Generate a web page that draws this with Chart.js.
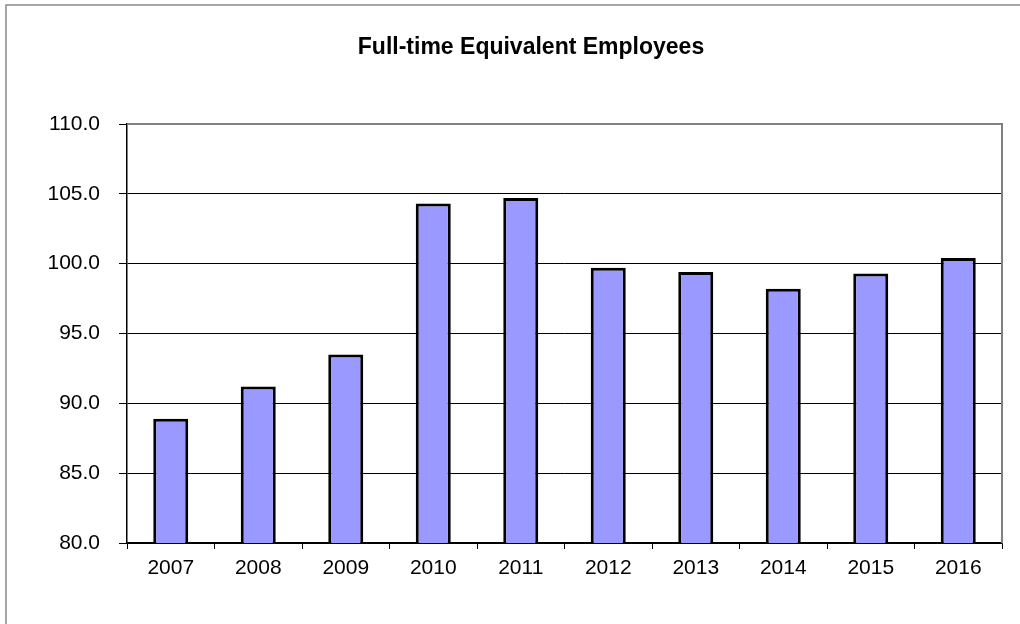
<!DOCTYPE html>
<html>
<head>
<meta charset="utf-8">
<title>Full-time Equivalent Employees</title>
<script src="https://cdn.jsdelivr.net/npm/chart.js@4/dist/chart.umd.min.js"></script>
<style>
  html, body { margin: 0; padding: 0; background: #fff; overflow: hidden; }
  #wrap { width: 1020px; height: 624px; }
</style>
</head>
<body>
<div id="wrap"><canvas id="fteChart" width="1020" height="624"></canvas></div>
<script>
// FTE per year
const chartTitle = 'Full-time Equivalent Employees';
const years = ['2007', '2008', '2009', '2010', '2011', '2012', '2013', '2014', '2015', '2016'];
const fte = [88.9, 91.2, 93.5, 104.3, 104.7, 99.7, 99.4, 98.2, 99.3, 100.4];
const yTicks = [80, 85, 90, 95, 100, 105, 110];

(function() {
  'use strict';

  const FONT = "Arial, 'Liberation Sans', sans-serif";

  // outer frame, title and the grey top/right edge of the plot area
  const frame = {
    id: 'frame',
    beforeDraw(chart) {
      const ctx = chart.ctx;
      ctx.save();
      ctx.fillStyle = '#fff';
      ctx.fillRect(0, 0, chart.width, chart.height);
      ctx.strokeStyle = '#8a8a8a';
      ctx.lineWidth = 1.5;
      ctx.beginPath();
      ctx.moveTo(6, chart.height);
      ctx.lineTo(6, 5);
      ctx.lineTo(chart.width, 5);
      ctx.stroke();

      ctx.fillStyle = '#000';
      ctx.font = 'bold 23px ' + FONT;
      ctx.textAlign = 'center';
      ctx.textBaseline = 'alphabetic';
      ctx.fillText(chartTitle, 531, 54);
      ctx.restore();
    },
    beforeDatasetsDraw(chart) {
      const a = chart.chartArea;
      const ctx = chart.ctx;
      ctx.save();
      ctx.strokeStyle = '#808080';
      ctx.lineWidth = 2;
      ctx.beginPath();
      ctx.moveTo(a.left, a.top);
      ctx.lineTo(a.right, a.top);
      ctx.lineTo(a.right, a.bottom);
      ctx.stroke();
      ctx.restore();
    }
  };

  new Chart(document.getElementById('fteChart'), {
    type: 'bar',
    data: {
      labels: years,
      datasets: [{
        data: fte,
        backgroundColor: '#9999ff',
        borderColor: '#000',
        borderWidth: 3,
        borderSkipped: 'start',
        categoryPercentage: 1,
        barPercentage: 0.4
      }]
    },
    options: {
      responsive: false,
      animation: false,
      devicePixelRatio: 1,
      layout: { padding: { left: 0, right: 18, top: 124, bottom: 0 } },
      plugins: {
        legend: { display: false },
        title: { display: false },
        tooltip: { enabled: false }
      },
      scales: {
        x: {
          afterFit(scale) { scale.height = 81; },
          grid: {
            offset: true,
            drawOnChartArea: false,
            color: '#000',
            tickLength: 6
          },
          border: { color: '#000', width: 1.5 },
          ticks: {
            color: '#000',
            padding: 7,
            font: { family: FONT, size: 21 }
          }
        },
        y: {
          min: 80,
          max: 110,
          afterFit(scale) { scale.width = 127; },
          afterBuildTicks(scale) { scale.ticks = yTicks.map(v => ({ value: v })); },
          grid: { color: '#000', lineWidth: 1, tickLength: 8 },
          border: { color: '#000', width: 1.5 },
          ticks: {
            color: '#000',
            padding: 19,
            font: { family: FONT, size: 21 },
            callback: v => Number(v).toFixed(1)
          }
        }
      }
    },
    plugins: [frame]
  });
})();
</script>
</body>
</html>
